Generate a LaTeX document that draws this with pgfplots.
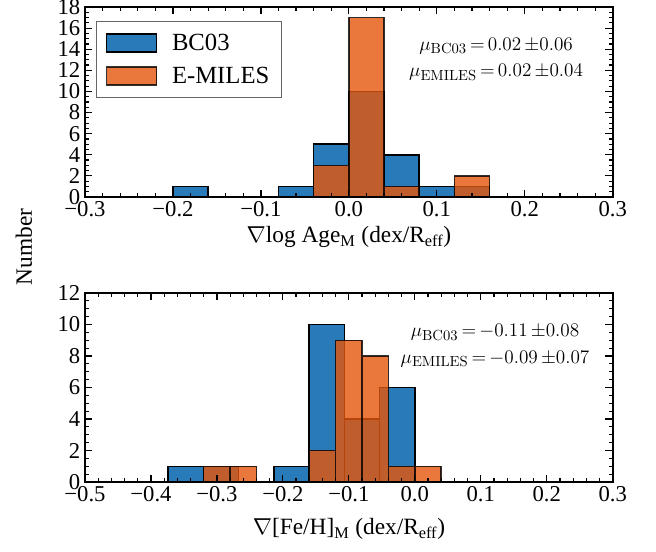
\documentclass[border=0pt]{standalone}
\usepackage[no-math]{fontspec}
\setmainfont{Liberation Serif}
\usepackage{pgfplots}
\pgfplotsset{compat=1.18}
\definecolor{cblue}{RGB}{40,122,184}
\definecolor{corange}{RGB}{229,86,11}

\pgfplotsset{
  histax/.style={
    scale only axis, width=395.8pt, anchor=south west,
    axis on top, tick align=inside,
    major tick length=5.5pt, minor tick length=3pt,
    every tick/.style={black, line width=0.9pt},
    axis line style={line width=1.3pt},
    minor x tick num=4, minor y tick num=3,
    x tick label as interval=false,
    tick label style={font=\fontsize{17}{20}\selectfont},
    /pgf/number format/assume math mode=true,
  },
  hb/.style={ybar interval, fill=cblue, draw=black, line width=1.1pt,
    legend image code/.code={\draw[fill=cblue,draw=black,line width=1.1pt] (0pt,-6.75pt) rectangle (37.5pt,6.75pt);
      \path[draw=none,fill=none] (37.5pt,0pt) -- (47pt,0pt);}},
  ho/.style={ybar interval, fill=corange, draw=black, line width=1.1pt, opacity=0.8,
    legend image code/.code={\draw[fill=corange,draw=black,line width=1.1pt,opacity=0.8] (0pt,-6.75pt) rectangle (37.5pt,6.75pt);
      \path[draw=none,fill=none] (37.5pt,0pt) -- (47pt,0pt);}},
}

\begin{document}
\begin{tikzpicture}
\path[use as bounding box] (0pt,0pt) rectangle (492pt,414pt);

% ---------- top panel: age gradient ----------
\begin{axis}[histax, at={(63.75pt,266.25pt)}, height=142.5pt,
  xmin=-0.3, xmax=0.3, ymin=0, ymax=18,
  xtick={-0.3,-0.2,-0.1,0,0.1,0.2,0.3},
  xticklabels={−0.3,−0.2,−0.1,0.0,0.1,0.2,0.3},
  ytick={0,2,4,6,8,10,12,14,16,18},
  legend style={at={(0.021,0.925)}, anchor=north west, draw=black!60, line width=0.8pt,
    font=\fontsize{18.5}{22}\selectfont, row sep=7pt, inner xsep=7pt, inner ysep=7pt,
    nodes={inner sep=2pt}, cells={anchor=west}},
  legend cell align=left,
]
\addplot[hb] coordinates {(-0.2,1) (-0.16,0) (-0.12,0) (-0.08,1) (-0.04,5) (0,10) (0.04,4) (0.08,1) (0.12,1) (0.16,0)};
\addlegendentry{BC03}
\addplot[ho] coordinates {(-0.04,3) (0,17) (0.04,1) (0.08,0) (0.12,2) (0.16,0)};
\addlegendentry{E-MILES}
\node[align=center, font=\fontsize{15.5}{20}\selectfont] at (rel axis cs:0.779,0.726)
  {$\mu_{\rm BC03}\,{=}\,0.02\,{\pm}0.06$\\$\mu_{\rm EMILES}\,{=}\,0.02\,{\pm}0.04$};
\end{axis}

% ---------- bottom panel: metallicity gradient ----------
\begin{axis}[histax, at={(63.75pt,52.5pt)}, height=141.75pt,
  xmin=-0.5, xmax=0.3, ymin=0, ymax=12,
  xtick={-0.5,-0.4,-0.3,-0.2,-0.1,0,0.1,0.2,0.3},
  xticklabels={−0.5,−0.4,−0.3,−0.2,−0.1,0.0,0.1,0.2,0.3},
  ytick={0,2,4,6,8,10,12},
]
\addplot[hb] coordinates {(-0.3740,1) (-0.3206,1) (-0.2671,0) (-0.2137,1) (-0.1603,10) (-0.1069,4) (-0.0534,6) (0.0,0)};
\addplot[ho] coordinates {(-0.32,1) (-0.28,1) (-0.24,0) (-0.20,0) (-0.16,2) (-0.12,9) (-0.08,8) (-0.04,1) (0.0,1) (0.04,0)};
\node[align=center, font=\fontsize{15.5}{20}\selectfont] at (rel axis cs:0.777,0.72)
  {$\mu_{\rm BC03}\,{=}\,{-}0.11\,{\pm}0.08$\\$\mu_{\rm EMILES}\,{=}\,{-}0.09\,{\pm}0.07$};
\end{axis}

% axis titles
\node[font=\fontsize{17.5}{20}\selectfont, anchor=base] at (261.75pt,231.75pt)
  {$\nabla$log Age\textsubscript{M} (dex/R\textsubscript{eff})};
\node[font=\fontsize{17.5}{20}\selectfont, anchor=base] at (261.75pt,12.75pt)
  {$\nabla$[Fe/H]\textsubscript{M} (dex/R\textsubscript{eff})};
\node[font=\fontsize{17.5}{20}\selectfont, rotate=90] at (18pt,228.75pt) {Number};
\end{tikzpicture}
\end{document}
